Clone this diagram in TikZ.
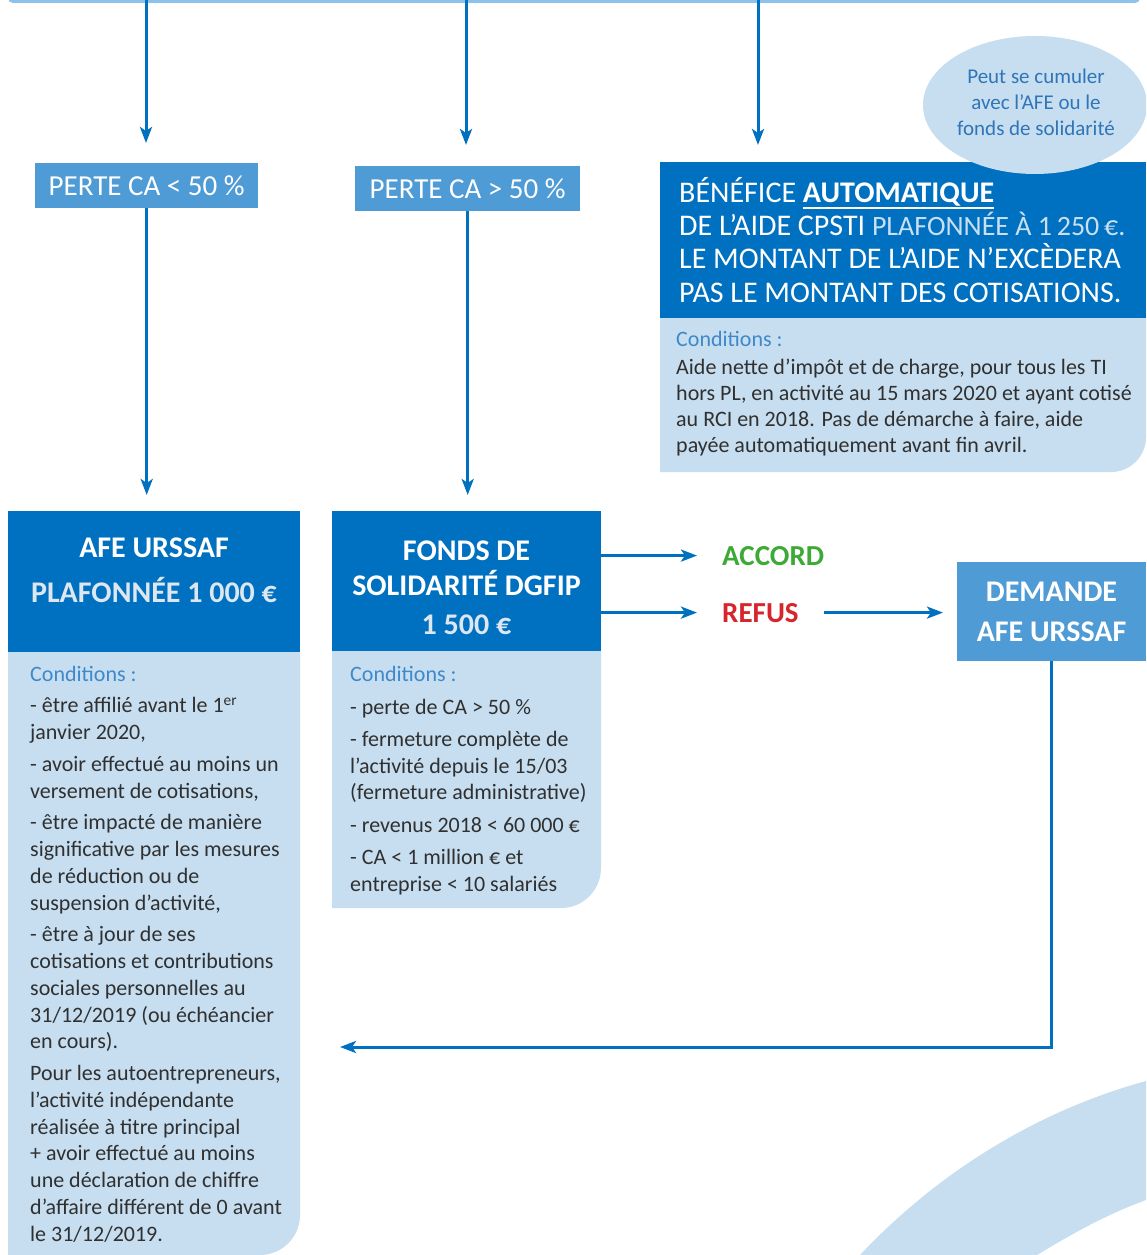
\documentclass[tikz,border=0pt]{standalone}
\usepackage{fontspec}
\setmainfont{Carlito}
\usetikzlibrary{arrows.meta,shapes.geometric}
\definecolor{dblue}{HTML}{0070C0}
\definecolor{mblue}{HTML}{4F9BD5}
\definecolor{lblue}{HTML}{C6DEF0}
\definecolor{barblue}{HTML}{8DC3EA}
\definecolor{condc}{HTML}{3F88CA}
\definecolor{ellc}{HTML}{2F75B8}
\definecolor{txt}{HTML}{303030}
\definecolor{okgreen}{HTML}{3DAA35}
\definecolor{nored}{HTML}{D6262C}
\definecolor{plaf}{HTML}{C9DFF2}
\definecolor{hdrlight}{HTML}{DDE7F1}
\newcommand\thickul[1]{\leavevmode\vtop{\hbox{#1}\kern1.2pt\hrule height 2.4pt}}
\begin{document}
\begin{tikzpicture}[x=1pt,y=-1pt,
  arr/.style={draw=dblue, line width=3pt, -{Stealth[length=16pt,width=12pt,inset=4pt]}},
  darkbox/.style={fill=dblue, inner sep=0pt, anchor=north west},
  midbox/.style={fill=mblue, inner sep=0pt, anchor=north west},
  pertetxt/.style={text=white, font=\fontsize{29}{30}\selectfont},
  hdr/.style={text=white, align=center, inner sep=0pt, anchor=base},
  body/.style={text=txt, align=left, inner sep=0pt, anchor=base west},
  verdict/.style={font=\fontsize{29}{30}\selectfont\bfseries, anchor=base west, inner sep=0pt},
]
\clip (0,0) rectangle (1146,1255);
\fill[white] (0,0) rectangle (1146,1255);

% decorative swoosh
\fill[lblue] (860,1255) .. controls (940,1170) and (1040,1110) .. (1146,1081)
  -- (1146,1200) .. controls (1105,1215) and (1070,1235) .. (1037,1255) -- cycle;

% top bar (bottom of a cropped box)
\fill[barblue, rounded corners=5pt] (8,-12) rectangle (1140,3);
\coordinate (t1) at (146,0);
\coordinate (t2) at (466,0);
\coordinate (t3) at (758,0);

% PERTE boxes
\node[midbox, pertetxt, minimum width=223, minimum height=45] (p1) at (35,163) {PERTE CA < 50 \%};
\node[midbox, pertetxt, minimum width=225, minimum height=45] (p2) at (355,166) {PERTE CA > 50 \%};

% BENEFICE box
\node[darkbox, minimum width=486, minimum height=156] (ben) at (660,162) {};
\fill[lblue] (660,318) -- (1146,318) -- (1146,437) arc[start angle=0,end angle=90,radius=35] -- (660,472) -- cycle;
\node[text=white, align=left, inner sep=0pt, anchor=base west, font=\fontsize{30}{33.3}\selectfont] (bent) at (679,302)
 {BÉNÉFICE \thickul{\bfseries AUTOMATIQUE}\\
  DE L’AIDE CPSTI {\fontsize{28}{33.3}\selectfont\color{plaf}PLAFONNÉE À 1\,250\,€.}\\
  LE MONTANT DE L’AIDE N’EXCÈDERA\\
  PAS LE MONTANT DES COTISATIONS.};
\node[body, font=\fontsize{22}{26}\selectfont] (benc) at (676,452)
 {{\color{condc}Conditions :}\\[2pt]
  Aide nette d’impôt et de charge, pour tous les TI\\
  hors PL, en activité au 15 mars 2020 et ayant cotisé\\
  au RCI en 2018. Pas de démarche à faire, aide\\
  payée automatiquement avant fin avril.};

% ellipse note
\node[ellipse, fill=lblue, minimum width=224, minimum height=138, inner sep=0pt] (cum) at (1035,105) {};
\node[font=\fontsize{21}{26}\selectfont, text=ellc, align=center, anchor=base, inner sep=0pt] (cumt) at (1036,135)
 {Peut se cumuler\\ avec l’AFE ou le\\ fonds de solidarité};

% AFE URSSAF
\node[darkbox, minimum width=292, minimum height=141] (afe) at (8,511) {};
\fill[lblue] (8,652) -- (300,652) -- (300,1215) arc[start angle=0,end angle=90,radius=40] -- (8,1255) -- cycle;
\node[hdr, font=\fontsize{30}{45}\selectfont\bfseries] (afet) at (154,602)
 {AFE URSSAF\\ {\color{hdrlight}PLAFONNÉE 1 000 €}};
\node[body, font=\fontsize{22}{26.75}\selectfont] (afec) at (30,1241)
 {{\color{condc}Conditions :}\\[5pt]
  - être affilié avant le 1\textsuperscript{er}\\
  janvier 2020,\\[5pt]
  - avoir effectué au moins un\\
  versement de cotisations,\\[5pt]
  - être impacté de manière\\
  significative par les mesures\\
  de réduction ou de\\
  suspension d’activité,\\[5pt]
  - être à jour de ses\\
  cotisations et contributions\\
  sociales personnelles au\\
  31/12/2019 (ou échéancier\\
  en cours).\\[5pt]
  Pour les autoentrepreneurs,\\
  l’activité indépendante\\
  réalisée à titre principal\\
  + avoir effectué au moins\\
  une déclaration de chiffre\\
  d’affaire différent de 0 avant\\
  le 31/12/2019.};

% FONDS DE SOLIDARITE
\node[darkbox, minimum width=269, minimum height=140] (fonds) at (332,511) {};
\fill[lblue] (332,651) -- (601,651) -- (601,868) arc[start angle=0,end angle=90,radius=40] -- (332,908) -- cycle;
\node[hdr, font=\fontsize{30}{35}\selectfont\bfseries] (fondst) at (466.5,634)
 {FONDS DE\\ SOLIDARITÉ DGFIP\\[4pt] {\color{hdrlight}1 500 €}};
\node[body, font=\fontsize{22}{26.5}\selectfont] (fondsc) at (350,891)
 {{\color{condc}Conditions :}\\[6pt]
  - perte de CA > 50 \%\\[6pt]
  - fermeture complète de\\
  l’activité depuis le 15/03\\
  (fermeture administrative)\\[6pt]
  - revenus 2018 < 60 000 €\\[6pt]
  - CA < 1 million € et\\
  entreprise < 10 salariés};

% ACCORD / REFUS
\node[verdict, text=okgreen] (acc) at (722,565) {ACCORD};
\node[verdict, text=nored] (ref) at (722,622) {REFUS};

% DEMANDE AFE URSSAF
\node[midbox, minimum width=189, minimum height=99] (dem) at (957,562) {};
\node[hdr, font=\fontsize{30}{40}\selectfont\bfseries] (demt) at (1051.5,641) {DEMANDE\\ AFE URSSAF};

\coordinate (ret) at (340,1047);

% connectors
\draw[arr, shorten >=20pt] (t1) -- (t1 |- p1.north);
\draw[arr, shorten >=21pt] (t2) -- (t2 |- p2.north);
\draw[arr, shorten >=17pt] (t3) -- (t3 |- ben.north);
\draw[arr, shorten >=16pt] (p1.south) -- (p1.south |- afe.north);
\draw[arr, shorten >=16pt] (p2.south) -- (p2.south |- fonds.north);
\draw[arr, shorten >=25pt] (fonds.east |- acc.west) -- (acc.west);
\draw[arr, shorten >=25pt] (fonds.east |- ref.west) -- (ref.west);
\draw[arr, shorten <=25pt, shorten >=14pt] (ref.east) -- (ref.east -| dem.west);
\draw[arr] (dem.south) |- (ret);
\end{tikzpicture}
\end{document}
